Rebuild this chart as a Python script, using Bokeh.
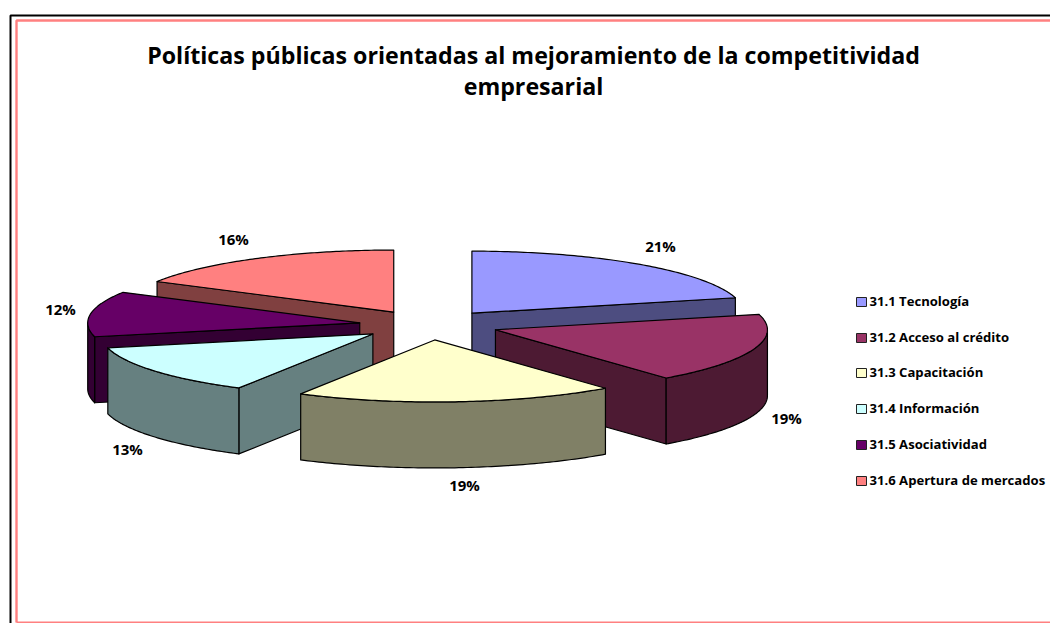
import numpy as np
from bokeh.plotting import figure
from bokeh.models import Range1d
from bokeh.core.properties import value
from bokeh.embed import file_html
from bokeh.resources import INLINE

title_lines = ["Políticas públicas orientadas al mejoramiento de la competitividad", "empresarial"]
categories = ["31.1 Tecnología", "31.2 Acceso al crédito", "31.3 Capacitación",
              "31.4 Información", "31.5 Asociatividad", "31.6 Apertura de mercados"]
values_pct = [21.0, 18.2, 19.0, 13.2, 11.8, 16.8]
labels = ["21%", "19%", "19%", "13%", "12%", "16%"]
top_colors = ["#9999FF", "#993366", "#FFFFCC", "#CCFFFF", "#660066", "#FF8080"]
side_colors = ["#4D4D80", "#4D1A33", "#808066", "#668080", "#330033", "#804040"]

FONT = "Open Sans"
CX, CY, RX, RY, DEPTH = 428.5, 324.5, 272.0, 62.0, 66.0
EXPL_X, EXPL_Y = 70.0, 15.0

p = figure(width=1050, height=623, output_backend="svg", toolbar_location=None,
           x_range=Range1d(0, 1050), y_range=Range1d(623, 0), min_border=0,
           margin=(0, 0, 0, 0))
p.axis.visible = False
p.grid.visible = False
p.outline_line_color = None
p.background_fill_color = "white"

# page frame
p.line([10, 10, 1050], [623, 15, 15], line_color="black", line_width=2)
p.line([16, 16, 1050], [622, 20, 20], line_color="#FF8080", line_width=2.4)
p.line([16, 1050], [622, 622], line_color="#FF8080", line_width=2)

fr = np.array(values_pct) / sum(values_pct)
edges = np.concatenate([[0], np.cumsum(fr)]) * 2 * np.pi


def pt(c, th):
    return c[0] + RX * np.sin(th), c[1] - RY * np.cos(th)


def draw_poly(xs, ys, color):
    p.patch(list(xs), list(ys), fill_color=color, line_color="black", line_width=1.2,
            line_join="round")


order = [0, 5, 4, 1, 3, 2]
for i in order:
    a, b = edges[i], edges[i + 1]
    mid = (a + b) / 2
    c = (CX + EXPL_X * np.sin(mid), CY - EXPL_Y * np.cos(mid))
    th = np.linspace(a, b, 90)
    ax, ay = pt(c, th)
    for t, normal in ((a, a - np.pi / 2), (b, b + np.pi / 2)):
        if np.cos(normal) < -1e-6:
            px, py = pt(c, t)
            draw_poly([c[0], px, px, c[0]], [c[1], py, py + DEPTH, c[1] + DEPTH], side_colors[i])
    lo, hi = max(a, np.pi / 2), min(b, 3 * np.pi / 2)
    if hi > lo:
        rim = np.linspace(lo, hi, 80)
        rx, ry = pt(c, rim)
        draw_poly(np.concatenate([rx, rx[::-1]]), np.concatenate([ry, ry[::-1] + DEPTH]), side_colors[i])
    draw_poly(np.concatenate([[c[0]], ax]), np.concatenate([[c[1]], ay]), top_colors[i])

p.text([533, 533], [54, 85], text=title_lines, text_align="center", text_baseline="middle",
       text_font=value(FONT), text_font_style="bold", text_font_size="23.2px", text_color="black")

label_x = [660, 786, 464, 127, 60, 233]
label_y = [245, 417, 484, 448, 308, 238]
p.text(label_x, label_y, text=labels, text_align="center", text_baseline="middle",
       text_font=value(FONT), text_font_style="bold", text_font_size="15px", text_color="black")

ly = [301.5, 337.5, 372.5, 408.5, 444.5, 480.5]
p.quad(left=[856] * 6, right=[866] * 6, top=[y - 4.5 for y in ly], bottom=[y + 4.5 for y in ly],
       fill_color=top_colors, line_color="#222222", line_width=1)
p.text([869] * 6, [y - 1 for y in ly], text=categories, text_align="left", text_baseline="middle",
       text_font=value(FONT), text_font_style="bold", text_font_size="13.1px", text_color="black")

open("out.html", "w").write(file_html(p, INLINE))
